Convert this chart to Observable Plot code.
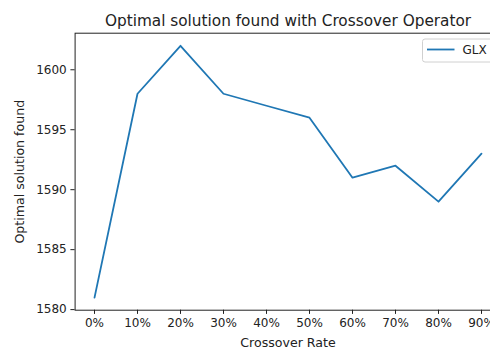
<!DOCTYPE html>
<html>
<head>
<meta charset="utf-8">
<script src="https://cdn.jsdelivr.net/npm/d3@7"></script>
<script src="https://cdn.jsdelivr.net/npm/@observablehq/plot@0.6"></script>
<style>
html, body { margin: 0; padding: 0; background: #fff; overflow: hidden; width: 490px; height: 349px; }
#chart svg { display: block; max-width: none !important; }
</style>
</head>
<body>
<div id="chart"></div>
<script>
const rates = ["0%", "10%", "20%", "30%", "40%", "50%", "60%", "70%", "80%", "90%"];
const glx = [1581, 1598, 1602, 1598, 1597, 1596, 1591, 1592, 1589, 1593];
const yTicks = [1580, 1585, 1590, 1595, 1600];
const seriesName = "GLX";
const titleText = "Optimal solution found with Crossover Operator";
const xLabel = "Crossover Rate";
const yLabel = "Optimal solution found";

const data = rates.map((r, i) => ({rate: r, value: glx[i]}));
const font = "DejaVu Sans, sans-serif";
const blue = "#1f77b4";
const ink = "#222";

const W = 502, H = 349;
const chart = Plot.plot({
  width: W,
  height: H,
  marginLeft: 74.6,
  marginRight: 1.6,
  marginTop: 32.7,
  marginBottom: 39.3,
  style: {fontFamily: font, fontSize: "12px", color: ink, background: "#fff", overflow: "visible", maxWidth: "none"},
  x: {type: "point", domain: rates, padding: 0.45, label: null},
  y: {domain: [1579.95, 1603.05], label: null},
  marks: [
    Plot.line(data, {x: "rate", y: "value", stroke: blue, strokeWidth: 1.8}),
    Plot.axisX({ticks: rates, tickSize: 4.2, tickPadding: 4.2, fontSize: 12, label: null, stroke: ink, fill: ink}),
    Plot.axisY({ticks: yTicks, tickFormat: "d", tickSize: 4.2, tickPadding: 4.2, fontSize: 12, label: null, stroke: ink, fill: ink}),
    Plot.frame({stroke: ink, strokeWidth: 1}),
    Plot.text([titleText], {frameAnchor: "top", dy: -12.5, fontSize: 15.3, fill: ink, lineAnchor: "middle", textAnchor: "middle", text: d => d}),
    Plot.text([xLabel], {frameAnchor: "bottom", dy: 33, fontSize: 12.6, fill: ink, lineAnchor: "middle", textAnchor: "middle", text: d => d}),
    Plot.text([yLabel], {frameAnchor: "left", dx: -55.5, rotate: -90, fontSize: 12.6, fill: ink, lineAnchor: "middle", textAnchor: "middle", text: d => d})
  ]
});
document.getElementById("chart").appendChild(chart);

// legend (matplotlib style, upper right)
const svg = d3.select(chart);
const g = svg.append("g").attr("font-family", font).attr("font-size", 12);
const bx = 422.5, by = 39, bw = 73, bh = 23;
g.append("rect").attr("x", bx).attr("y", by).attr("width", bw).attr("height", bh)
  .attr("rx", 2.5).attr("fill", "#fff").attr("fill-opacity", 0.8)
  .attr("stroke", "#d0d0d0").attr("stroke-width", 1);
g.append("line").attr("x1", bx + 4.5).attr("x2", bx + 32).attr("y1", by + 10.5).attr("y2", by + 10.5)
  .attr("stroke", blue).attr("stroke-width", 1.8);
g.append("text").attr("x", bx + 40).attr("y", by + 15).attr("text-anchor", "start").attr("fill", ink).text(seriesName);
</script>
</body>
</html>
